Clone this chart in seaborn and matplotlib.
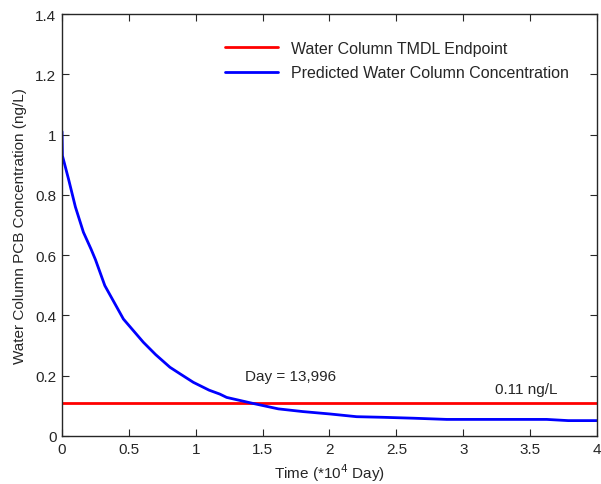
import numpy as np
import pandas as pd
import matplotlib
matplotlib.use("Agg")
import matplotlib.pyplot as plt
import seaborn as sns

# time in 10^4 days, concentration in ng/L
time_1e4 = [0.0, 0.003, 0.05, 0.1, 0.16, 0.217, 0.25, 0.32, 0.459, 0.608,
            0.7, 0.807, 0.88, 0.982, 1.1, 1.18, 1.231, 1.418, 1.617, 1.8, 2.004,
            2.203, 2.4, 2.627, 2.876, 3.2, 3.624, 3.785, 4.0]
conc = [1.01, 0.93, 0.85, 0.76, 0.676, 0.62, 0.585, 0.499, 0.388, 0.311,
        0.27, 0.228, 0.207, 0.178, 0.152, 0.139, 0.128, 0.109, 0.09, 0.081, 0.073,
        0.064, 0.062, 0.059, 0.055, 0.055, 0.055, 0.051, 0.051]
endpoint = 0.11
endpoint_x = [0.0, 4.0]

sns.set_style("ticks")
plt.rcParams['font.family'] = ['Liberation Sans', 'DejaVu Sans']

df = pd.DataFrame({"t": time_1e4, "c": conc})
df_end = pd.DataFrame({"t": endpoint_x, "c": [endpoint, endpoint]})

fig = plt.figure(figsize=(6.01, 4.85), dpi=100)
ax = fig.add_axes([0.1032, 0.099, 0.8901, 0.870])

sns.lineplot(data=df_end, x="t", y="c", ax=ax, color="#ff0000", lw=2,
             label="Water Column TMDL Endpoint")
sns.lineplot(data=df, x="t", y="c", ax=ax, color="#0000ff", lw=2,
             label="Predicted Water Column Concentration", sort=False)

fs = 11
ax.set_xlim(0, 4)
ax.set_ylim(0, 1.4)
ax.set_xticks(np.arange(0, 4.01, 0.5))
ax.set_xticklabels(["0", "0.5", "1", "1.5", "2", "2.5", "3", "3.5", "4"])
ax.set_yticks(np.arange(0, 1.41, 0.2))
ax.set_yticklabels(["0", "0.2", "0.4", "0.6", "0.8", "1", "1.2", "1.4"])
ax.tick_params(direction="in", length=5, labelsize=fs, top=True, right=True,
               width=0.8, pad=4)
for s in ax.spines.values():
    s.set_linewidth(1.0)
    s.set_visible(True)

ax.set_xlabel("Time (*10$^4$ Day)", fontsize=fs, labelpad=4)
ax.set_ylabel("Water Column PCB Concentration (ng/L)", fontsize=fs, labelpad=6)

ax.text(1.368, 0.2, "Day = 13,996", fontsize=fs, va="center")
ax.text(3.237, 0.155, "0.11 ng/L", fontsize=fs, va="center")

leg = ax.legend(loc="upper left", frameon=False, fontsize=11.5,
                handlelength=3.3, handletextpad=0.8, labelspacing=0.6,
                borderpad=0, borderaxespad=0,
                bbox_to_anchor=(0.3047, 0.937))

fig.savefig("out.png", dpi=100)
